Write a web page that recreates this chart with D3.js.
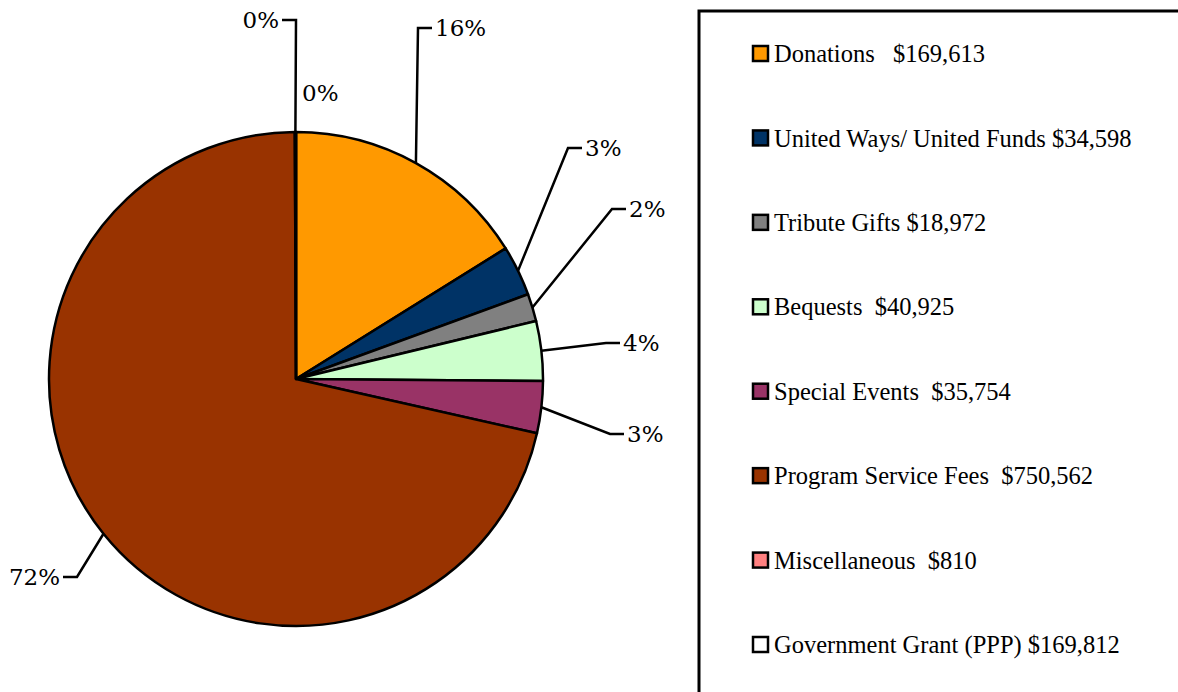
<!DOCTYPE html>
<html>
<head>
<meta charset="utf-8">
<script src="https://cdn.jsdelivr.net/npm/d3@7"></script>
<style>
  body { margin: 0; background: #fff; }
  svg { display: block; }
</style>
</head>
<body>
<svg id="chart" width="1178" height="692"></svg>
<script>
// data
var categories = ["Donations", "United Ways/ United Funds", "Tribute Gifts", "Bequests",
    "Special Events", "Program Service Fees", "Miscellaneous", "Government Grant (PPP)"]
var amounts = [169613, 34598, 18972, 40925, 35754, 750562, 810, 169812]
// the pie itself leaves the grant out (it shows as a 0% slice)
var pieValues = [169613, 34598, 18972, 40925, 35754, 750562, 810, 0]
var pctLabels = ["16%", "3%", "2%", "4%", "3%", "72%", "0%", "0%"]
var legendText = ["Donations   $169,613", "United Ways/ United Funds $34,598", "Tribute Gifts $18,972",
    "Bequests  $40,925", "Special Events  $35,754", "Program Service Fees  $750,562",
    "Miscellaneous  $810", "Government Grant (PPP) $169,812"]
var colors = ["#FF9900", "#003366", "#808080", "#CCFFCC", "#993366", "#993300", "#FF8080", "#FFFFFF"]

// label layout: elbow point of the leader (relative to pie centre), side of text
var labelLayout = [
    {ex: 122, ey: -351, side: 1, line: true},
    {ex: 272, ey: -231, side: 1, line: true},
    {ex: 316, ey: -170, side: 1, line: true},
    {ex: 310, ey: -36, side: 1, line: true},
    {ex: 314, ey: 55, side: 1, line: true},
    {ex: -219, ey: 198, side: -1, line: true},
    {ex: 0, ey: -359, side: -1, line: true},
    {ex: 6, ey: -286, side: 1, line: false}
]

var svg = d3.select("#chart")
var cx = 296, cy = 379, radius = 247

var pie = d3.pie().sort(null).value(function(d) { return d })
var arc = d3.arc().innerRadius(0).outerRadius(radius)
var arcs = pie(pieValues)

var g = svg.append("g").attr("transform", "translate(" + cx + "," + cy + ")")

g.selectAll("path.slice")
    .data(arcs)
    .enter().append("path")
    .attr("class", "slice")
    .attr("d", arc)
    .attr("fill", function(d, i) { return colors[i] })
    .attr("stroke", "#000")
    .attr("stroke-width", 2.5)
    .attr("stroke-linejoin", "round")

// leader lines + percent labels
var labels = g.selectAll("g.lbl")
    .data(arcs)
    .enter().append("g")
    .attr("class", "lbl")

labels.each(function(d, i) {
    var s = d3.select(this)
    var L = labelLayout[i]
    var mid = (d.startAngle + d.endAngle) / 2
    var sx = radius * Math.sin(mid), sy = -radius * Math.cos(mid)
    var endX = L.ex + L.side * 14
    if (L.line) {
        s.append("path")
            .attr("d", d3.line()([[sx, sy], [L.ex, L.ey], [endX, L.ey]]))
            .attr("fill", "none")
            .attr("stroke", "#000")
            .attr("stroke-width", 2.5)
    }
    s.append("text")
        .attr("x", L.line ? endX + L.side * 3 : L.ex)
        .attr("y", L.ey)
        .attr("dy", "0.36em")
        .attr("text-anchor", L.side > 0 ? "start" : "end")
        .attr("font-family", "'DejaVu Serif', serif")
        .attr("font-size", 23)
        .attr("fill", "#000")
        .text(pctLabels[i])
})

// legend box
var lx = 699, ly = 11
svg.append("rect")
    .attr("x", lx)
    .attr("y", ly)
    .attr("width", 600)
    .attr("height", 800)
    .attr("fill", "none")
    .attr("stroke", "#000")
    .attr("stroke-width", 3)

var legendY = d3.scalePoint().domain(categories).range([54, 645])

var item = svg.append("g").selectAll("g")
    .data(categories)
    .enter().append("g")
    .attr("transform", function(d) { return "translate(753," + legendY(d) + ")" })

item.append("rect")
    .attr("x", 0)
    .attr("y", -8)
    .attr("width", 15)
    .attr("height", 15)
    .attr("fill", function(d, i) { return colors[i] })
    .attr("stroke", "#000")
    .attr("stroke-width", 2.5)

item.append("text")
    .attr("x", 21)
    .attr("y", 0)
    .attr("dy", "0.33em")
    .attr("font-family", "'Liberation Serif', 'Times New Roman', serif")
    .attr("font-size", 24.5)
    .attr("fill", "#000")
    .style("white-space", "pre")
    .text(function(d, i) { return legendText[i] })
</script>
</body>
</html>
